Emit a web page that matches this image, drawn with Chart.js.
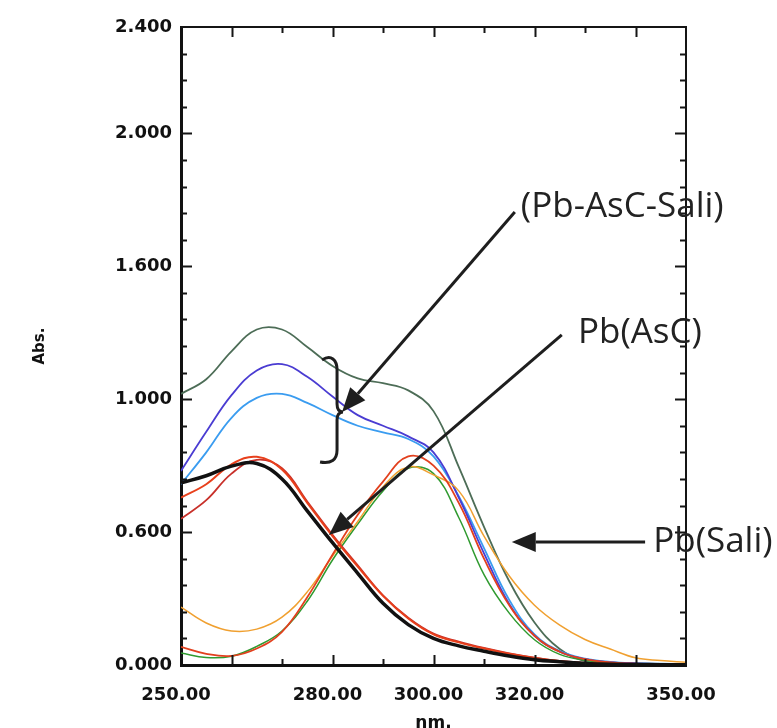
<!DOCTYPE html>
<html><head><meta charset="utf-8">
<script src="https://cdn.jsdelivr.net/npm/chart.js@4"></script>
<style>html,body{margin:0;padding:0;background:#fff;}#wrap{width:777px;height:728px;}</style>
</head><body><div id="wrap"><canvas id="c" width="777" height="728"></canvas></div>
<script>
// ---- data (wavelength in nm, absorbance) ----
const wavelengthNm = [250,255,260,265,270,275,280,285,290,295,300,305,310,315,320,325,330,335,340,345,350];
const mixGreenAbs     = [1.020,1.075,1.180,1.262,1.262,1.196,1.125,1.078,1.060,1.033,0.955,0.745,0.520,0.315,0.160,0.060,0.015,0.005,0.003,0.002,0.002];
const mixBlueAbs      = [0.730,0.877,1.015,1.108,1.132,1.084,1.010,0.940,0.900,0.860,0.800,0.630,0.420,0.230,0.110,0.050,0.022,0.010,0.006,0.004,0.003];
const mixLightBlueAbs = [0.680,0.800,0.930,1.005,1.020,0.986,0.940,0.900,0.875,0.850,0.785,0.635,0.440,0.245,0.115,0.052,0.024,0.012,0.007,0.005,0.004];
const ascBlackAbs     = [0.685,0.712,0.748,0.758,0.700,0.580,0.460,0.345,0.232,0.152,0.100,0.072,0.052,0.034,0.020,0.012,0.006,0.003,0.002,0.001,0.001];
const ascRedAbs       = [0.630,0.680,0.755,0.783,0.735,0.610,0.485,0.370,0.260,0.175,0.115,0.085,0.062,0.042,0.026,0.014,0.007,0.004,0.002,0.001,0.001];
const ascDarkRedAbs   = [0.550,0.620,0.720,0.772,0.740,0.615,0.490,0.375,0.262,0.178,0.118,0.088,0.064,0.044,0.028,0.015,0.008,0.004,0.002,0.001,0.001];
const saliOrangeAbs   = [0.218,0.158,0.128,0.135,0.180,0.275,0.410,0.540,0.670,0.745,0.715,0.655,0.485,0.335,0.225,0.150,0.096,0.060,0.027,0.017,0.010];
const saliGreenAbs    = [0.045,0.028,0.033,0.070,0.128,0.240,0.395,0.530,0.655,0.740,0.720,0.555,0.340,0.195,0.095,0.040,0.018,0.008,0.004,0.003,0.002];
const saliRedAbs      = [0.068,0.042,0.034,0.062,0.125,0.255,0.415,0.565,0.690,0.785,0.750,0.610,0.400,0.225,0.110,0.050,0.022,0.010,0.005,0.003,0.002];

const xTickValues = [250,280,300,320,350];
const yTickValues = [0,0.5,1.0,1.5,2.0,2.4];
const yTickLabels = ['0.000','0.600','1.000','1.600','2.000','2.400'];
const xTitle = 'nm.';
const yTitle = 'Abs.';

// annotations in data units
const noteLabels = ['(Pb-AsC-Sali)','Pb(AsC)','Pb(Sali)'];
const noteTextAt = [[317.3,1.723],[328.6,1.249],[343.5,0.463]];
const noteArrowFrom = [[316.1,1.704],[325.4,1.242],[341.9,0.463]];
const noteArrowTo = [[281.9,0.952],[279.3,0.489],[315.5,0.463]];
const braceNm = 280.9, braceTopAbs = 1.155, braceMidAbs = 0.952, braceBottomAbs = 0.764;

function series(vals){ return wavelengthNm.map((w,i)=>({x:w,y:vals[i]})); }
function ds(vals,color,width){
  return {data:series(vals),borderColor:color,borderWidth:width,pointRadius:0,fill:false,
          tension:0.4,showLine:true};
}

const framePlugin = {
  id:'frame',
  afterDraw(chart){
    const {ctx, chartArea:a, scales:{x,y}} = chart;
    ctx.save();
    ctx.strokeStyle = '#151515';
    ctx.lineWidth = 2;
    ctx.beginPath();
    ctx.moveTo(a.left, a.top); ctx.lineTo(a.right, a.top); ctx.lineTo(a.right, a.bottom);
    ctx.stroke();
    ctx.lineWidth = 2;
    ctx.beginPath();
    for (let v = 260; v < 350; v += 10) {
      const px = Math.round(x.getPixelForValue(v)) + 0.5;
      const L = (v % 20 === 0) ? 10 : 6;
      ctx.moveTo(px, a.bottom); ctx.lineTo(px, a.bottom - L);
      ctx.moveTo(px, a.top); ctx.lineTo(px, a.top + L);
    }
    for (let k = 1; k < 24; k++) {
      const py = Math.round(y.getPixelForValue(k / 10)) + 0.5;
      const L = (k % 5 === 0) ? 11 : 6;
      ctx.moveTo(a.left, py); ctx.lineTo(a.left + L, py);
      ctx.moveTo(a.right, py); ctx.lineTo(a.right - L, py);
    }
    ctx.stroke();

    // brace
    const bx = x.getPixelForValue(braceNm);
    const bt = y.getPixelForValue(braceTopAbs), bm = y.getPixelForValue(braceMidAbs), bb = y.getPixelForValue(braceBottomAbs);
    ctx.strokeStyle = '#1e1e1e';
    ctx.lineWidth = 3;
    ctx.beginPath();
    ctx.moveTo(bx - 15, bt + 2);
    ctx.bezierCurveTo(bx - 6, bt - 4, bx, bt + 2, bx, bt + 12);
    ctx.lineTo(bx, bm - 8);
    ctx.quadraticCurveTo(bx, bm, bx + 6, bm);
    ctx.quadraticCurveTo(bx, bm, bx, bm + 8);
    ctx.lineTo(bx, bb - 12);
    ctx.bezierCurveTo(bx, bb - 2, bx - 6, bb + 2, bx - 17, bb);
    ctx.stroke();

    // arrows
    ctx.fillStyle = '#1e1e1e';
    for (let i = 0; i < noteLabels.length; i++) {
      const x0 = x.getPixelForValue(noteArrowFrom[i][0]), y0 = y.getPixelForValue(noteArrowFrom[i][1]);
      const x1 = x.getPixelForValue(noteArrowTo[i][0]), y1 = y.getPixelForValue(noteArrowTo[i][1]);
      const ang = Math.atan2(y1 - y0, x1 - x0);
      const hl = 24, hw = 10;
      const bxp = x1 - hl * Math.cos(ang), byp = y1 - hl * Math.sin(ang);
      ctx.lineWidth = 3;
      ctx.beginPath(); ctx.moveTo(x0, y0); ctx.lineTo(bxp, byp); ctx.stroke();
      ctx.beginPath();
      ctx.moveTo(x1, y1);
      ctx.lineTo(bxp + hw * Math.sin(ang), byp - hw * Math.cos(ang));
      ctx.lineTo(bxp - hw * Math.sin(ang), byp + hw * Math.cos(ang));
      ctx.closePath(); ctx.fill();
    }
    // labels
    ctx.fillStyle = '#222222';
    ctx.font = '35px "Open Sans"';
    ctx.textAlign = 'left';
    ctx.textBaseline = 'middle';
    for (let i = 0; i < noteLabels.length; i++) {
      ctx.fillText(noteLabels[i], x.getPixelForValue(noteTextAt[i][0]), y.getPixelForValue(noteTextAt[i][1]));
    }
    ctx.restore();
  }
};

const tickFont = {family:'"DejaVu Sans"', weight:'bold', size:18};
new Chart(document.getElementById('c'), {
  type:'scatter',
  data:{datasets:[
    ds(ascBlackAbs,'#111111',3.5),
    ds(ascRedAbs,'#e8401c',2),
    ds(ascDarkRedAbs,'#c8302a',1.8),
    ds(saliRedAbs,'#e2401e',1.8),
    ds(saliOrangeAbs,'#f0a030',1.5),
    ds(saliGreenAbs,'#2f9a2f',1.5),
    ds(mixBlueAbs,'#4a3cd2',1.8),
    ds(mixLightBlueAbs,'#3a9cf0',1.8),
    ds(mixGreenAbs,'#4d6d57',1.8)
  ]},
  options:{
    responsive:false, devicePixelRatio:1, animation:false,
    layout:{padding:{top:27,right:91,left:0,bottom:0}},
    plugins:{legend:{display:false},tooltip:{enabled:false}},
    scales:{
      x:{type:'linear',position:'bottom',min:250,max:350,
        grid:{display:false,drawTicks:false},
        border:{display:true,width:3,color:'#111'},
        afterBuildTicks:s=>{s.ticks = xTickValues.map(v=>({value:v}));},
        afterFit:s=>{s.height = 63;},
        ticks:{autoSkip:false,maxRotation:0,padding:20,color:'#111',font:tickFont,labelOffset:-5,
          callback:v=>Number(v).toFixed(2)},
        title:{display:true,text:xTitle,color:'#111',font:{family:'"DejaVu Sans"',weight:'bold',size:17},padding:{top:0,bottom:-6}}
      },
      y:{type:'linear',position:'left',min:0,max:2.4,
        grid:{display:false,drawTicks:false},
        border:{display:true,width:3,color:'#111'},
        afterBuildTicks:s=>{s.ticks = yTickValues.map(v=>({value:v}));},
        afterFit:s=>{s.width = 181;},
        ticks:{autoSkip:false,padding:9,color:'#111',font:tickFont,
          callback:(v,i)=>yTickLabels[i]},
        title:{display:true,text:yTitle,color:'#111',font:{family:'"DejaVu Sans"',weight:'bold',size:15},padding:{top:31,bottom:0}}
      }
    }
  },
  plugins:[framePlugin]
});
</script></body></html>
